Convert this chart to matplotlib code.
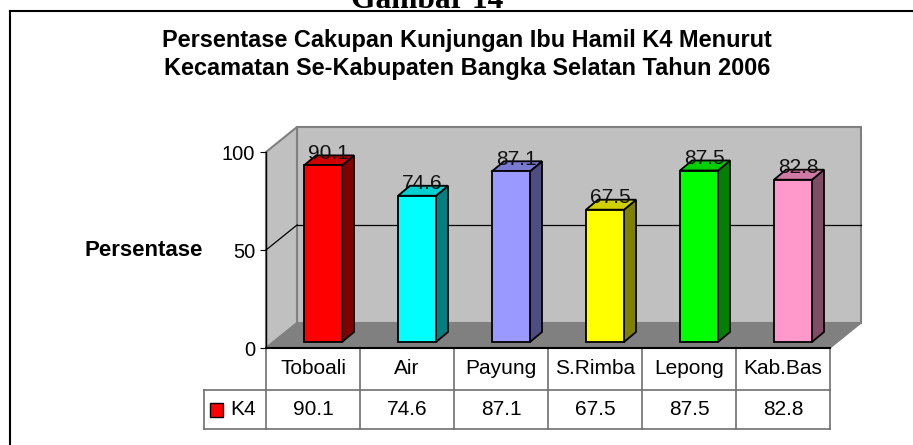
#!/usr/bin/env python3

import matplotlib
matplotlib.use("Agg")
import matplotlib.pyplot as plt
from matplotlib.lines import Line2D
from matplotlib.patches import Polygon, Rectangle

plt.rcParams["font.family"] = ["Liberation Sans", "DejaVu Sans"]

# data
categories = ["Toboali", "Air", "Payung", "S.Rimba", "Lepong", "Kab.Bas"]
k4_values = [90.1, 74.6, 87.1, 67.5, 87.5, 82.8]
series_name = "K4"
y_ticks = [0, 50, 100]

title_lines = [
    "Persentase Cakupan Kunjungan Ibu Hamil K4 Menurut",
    "Kecamatan Se-Kabupaten Bangka Selatan Tahun 2006",
]
figure_caption = "Gambar 14"
y_label = "Persentase"

# front / side / top colours per bar (excel 3d look)
_FRONT = ["#ff0000", "#00ffff", "#9999ff", "#ffff00", "#00ff00", "#ff99cc"]
_SIDE = ["#800000", "#008080", "#4d4d80", "#808000", "#008000", "#804d66"]
_TOP = ["#d00000", "#00d0d0", "#7a7ad0", "#d0d000", "#00d000", "#d07aa6"]
_SERIES_COLOR = "#ff0000"

W, H = 913, 445
# front plane of the 3d box, in pixels
X0_PX, X1_PX = 266, 830
Y0_PX, Y1_PX = 348, 152
PPX = (X1_PX - X0_PX) / len(categories)  # px per category
PPY = (Y0_PX - Y1_PX) / 100.0  # px per value unit

# depth of the box and of the bars, in pixels
BOX_DX, BOX_DY = 31, 25
BAR_OFF_X, BAR_OFF_Y = 38, 6
BAR_W = 38
BAR_DX, BAR_DY = 12, 10
ROW1_H, ROW2_H = 42, 39
LEGEND_W = 62


def ux(px):
    return px / PPX


def uy(px):
    return px / PPY


fig = plt.figure(figsize=(W / 100, H / 100), dpi=100)
ax = fig.add_axes([X0_PX / W, (H - Y0_PX) / H, (X1_PX - X0_PX) / W, (Y0_PX - Y1_PX) / H])
ax.set_xlim(-0.5, len(categories) - 0.5)
ax.set_ylim(0, 100)
ax.patch.set_visible(False)
for side in ("top", "right"):
    ax.spines[side].set_visible(False)
ax.spines["left"].set_color("black")
ax.spines["bottom"].set_color("black")
ax.spines["left"].set_linewidth(1.0)
ax.spines["bottom"].set_linewidth(1.5)
ax.set_xticks([])
ax.set_yticks(y_ticks)
ax.set_yticklabels([str(t) for t in y_ticks])
ax.tick_params(axis="y", length=4.3, width=0.8, pad=3.6, labelsize=14.5)

left = -0.5
right = len(categories) - 0.5
dx, dy = ux(BOX_DX), uy(BOX_DY)

# walls and floor
back = Polygon([(left + dx, dy), (right + dx, dy), (right + dx, 100 + dy), (left + dx, 100 + dy)],
               closed=True, facecolor="#c0c0c0", edgecolor="#808080", lw=1.5, clip_on=False, zorder=0.5)
side_wall = Polygon([(left, 0), (left + dx, dy), (left + dx, 100 + dy), (left, 100)],
                    closed=True, facecolor="#c0c0c0", edgecolor="#808080", lw=1.5, clip_on=False, zorder=0.6)
floor = Polygon([(left, 0), (right, 0), (right + dx, dy), (left + dx, dy)],
                closed=True, facecolor="#808080", edgecolor="#808080", lw=1.0, clip_on=False, zorder=0.7)
for p in (back, side_wall, floor):
    ax.add_patch(p)

# gridline at 50 on back and side walls
ax.plot([left + dx, right + dx], [50 + dy, 50 + dy], color="black", lw=0.9, clip_on=False, zorder=0.8)
ax.plot([left, left + dx], [50, 50 + dy], color="black", lw=0.9, clip_on=False, zorder=0.8)

# bars
xs = [i - 0.5 + ux(BAR_OFF_X) for i in range(len(categories))]
bw = ux(BAR_W)
base = uy(BAR_OFF_Y)
bdx, bdy = ux(BAR_DX), uy(BAR_DY)
ax.bar(xs, k4_values, width=bw, bottom=base, align="edge", color=_FRONT,
       edgecolor="black", lw=1.3, clip_on=False, zorder=3)
for i, v in enumerate(k4_values):
    x0 = xs[i]
    top = base + v
    ax.add_patch(Polygon([(x0 + bw, base), (x0 + bw + bdx, base + bdy), (x0 + bw + bdx, top + bdy), (x0 + bw, top)],
                         closed=True, facecolor=_SIDE[i], edgecolor="black", lw=1.3, clip_on=False, zorder=2.9))
    ax.add_patch(Polygon([(x0, top), (x0 + bw, top), (x0 + bw + bdx, top + bdy), (x0 + bdx, top + bdy)],
                         closed=True, facecolor=_TOP[i], edgecolor="black", lw=1.3, clip_on=False, zorder=2.9))
    ax.text(x0 + bw / 2 + ux(5), top + uy(12), f"{v}", ha="center", va="center",
            fontsize=15, color="#111111", zorder=4, clip_on=False)

# data table under the chart
r1 = -uy(ROW1_H)
r2 = -uy(ROW1_H + ROW2_H)
lx = left - ux(LEGEND_W)
tcol = "#707070"
for k in range(len(categories) + 1):
    ax.add_line(Line2D([left + k, left + k], [0, r2], color=tcol, lw=1.2, clip_on=False, zorder=2))
ax.add_line(Line2D([lx, right], [r1, r1], color=tcol, lw=1.2, clip_on=False, zorder=2))
ax.add_line(Line2D([lx, right], [r2, r2], color=tcol, lw=1.2, clip_on=False, zorder=2))
ax.add_line(Line2D([lx, lx], [r1, r2], color=tcol, lw=1.2, clip_on=False, zorder=2))
for i, (cat, v) in enumerate(zip(categories, k4_values)):
    ax.text(i, r1 / 2, cat, ha="center", va="center", fontsize=15, clip_on=False)
    ax.text(i, (r1 + r2) / 2, f"{v}", ha="center", va="center", fontsize=15, clip_on=False)
ax.add_patch(Rectangle((left - ux(56), (r1 + r2) / 2 - uy(7)), ux(13), uy(14),
                       facecolor=_SERIES_COLOR, edgecolor="black", lw=1.0, clip_on=False, zorder=3))
ax.text(left - ux(36), (r1 + r2) / 2, series_name, ha="left", va="center", fontsize=15, clip_on=False)

# y label
ax.text(left - ux(63), 50, y_label, ha="right", va="center", fontsize=16, fontweight="bold", clip_on=False)

# titles and caption (caption is cut by the top edge, as in the source)
fig.text(467 / W, 1 - 46.7 / H, title_lines[0], ha="center", va="baseline", fontsize=16.9, fontweight="bold")
fig.text(467 / W, 1 - 75 / H, title_lines[1], ha="center", va="baseline", fontsize=16.9, fontweight="bold")
fig.text(427 / W, 1 - 8 / H, figure_caption, ha="center", va="baseline", fontsize=22.7,
         fontweight="bold", family=["Liberation Serif", "DejaVu Serif"])

# outer frame, runs off the right and bottom edge
fig.add_artist(Line2D([10 / W, 1.0], [1 - 11 / H, 1 - 11 / H], color="black", lw=1.5))
fig.add_artist(Line2D([10 / W, 10 / W], [0.0, 1 - 11 / H], color="black", lw=1.5))

fig.savefig("out.png", dpi=100)
